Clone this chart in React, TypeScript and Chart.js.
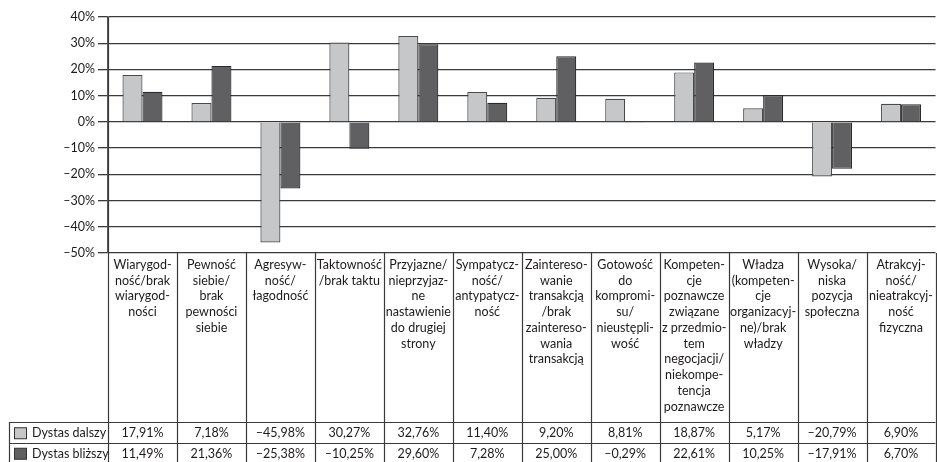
import React, { useEffect, useRef } from "react";
import { Chart, registerables } from "chart.js";

Chart.register(...registerables);

const categories: string[][] = [
  ["Wiarygod-", "ność/brak", "wiarygod-", "ności"],
  ["Pewność", "siebie/", "brak", "pewności", "siebie"],
  ["Agresyw-", "ność/", "łagodność"],
  ["Taktowność", "/brak taktu"],
  ["Przyjazne/", "nieprzyjaz-", "ne", "nastawienie", "do drugiej", "strony"],
  ["Sympatycz-", "ność/", "antypatycz-", "ność"],
  ["Zaintereso-", "wanie", "transakcją", "/brak", "zaintereso-", "wania", "transakcją"],
  ["Gotowość", "do", "kompromi-", "su/", "nieustępli-", "wość"],
  ["Kompeten-", "cje", "poznawcze", "związane", "z przedmio-", "tem", "negocjacji/", "niekompe-", "tencja", "poznawcze"],
  ["Władza", "(kompeten-", "cje", "organizacyj-", "ne)/brak", "władzy"],
  ["Wysoka/", "niska", "pozycja", "społeczna"],
  ["Atrakcyj-", "ność/", "nieatrakcyj-", "ność", "fizyczna"],
];

const seriesNames = ["Dystas dalszy", "Dystas bliższy"];
const farValues = [17.91, 7.18, -45.98, 30.27, 32.76, 11.4, 9.2, 8.81, 18.87, 5.17, -20.79, 6.9];
const nearValues = [11.49, 21.36, -25.38, -10.25, 29.6, 7.28, 25.0, -0.29, 22.61, 10.25, -17.91, 6.7];

const yMin = -50;
const yMax = 40;
const yStep = 10;

const FONT = "Lato, 'Open Sans', sans-serif";
const TEXT = "#1e1a1b";
const LINE = "#3a3a3a";
const LIGHT = "#c6c7c9";
const DARK = "#606062";

const fmtPct = (v: number) => (v < 0 ? "\u2013" : "") + Math.abs(v).toFixed(2).replace(".", ",") + "%";
const fmtTick = (v: number) => (v < 0 ? "\u2013" : "") + Math.abs(v) + "%";

const ROW_TOP = 422;
const ROW_H = 20.5;
const TABLE_LEFT = 9;

const tablePlugin = {
  id: "dataTable",
  afterDraw(chart: any) {
    const ctx = chart.ctx as CanvasRenderingContext2D;
    const { right, top, bottom } = chart.chartArea;
    const xs = chart.scales.x;
    const H = chart.height;
    const n = categories.length;
    const colW = (chart.chartArea.right - chart.chartArea.left) / n;
    ctx.save();
    ctx.strokeStyle = LINE;
    ctx.lineWidth = 1.2;
    for (let i = 0; i <= n; i++) {
      const x = Math.round(xs.getPixelForValue(i) - colW / 2) + 0.5;
      ctx.beginPath();
      ctx.moveTo(x, i === 0 ? top : bottom);
      ctx.lineTo(x, H);
      ctx.stroke();
    }
    for (let r = 0; r < 2; r++) {
      const y = Math.round(ROW_TOP + r * ROW_H) + 0.5;
      ctx.beginPath();
      ctx.moveTo(TABLE_LEFT, y);
      ctx.lineTo(right, y);
      ctx.stroke();
    }
    ctx.beginPath();
    ctx.moveTo(TABLE_LEFT + 0.5, ROW_TOP);
    ctx.lineTo(TABLE_LEFT + 0.5, H);
    ctx.stroke();

    const rows = [farValues, nearValues];
    ctx.font = "12.5px " + FONT;
    ctx.textBaseline = "middle";
    rows.forEach((vals, r) => {
      const cy = ROW_TOP + r * ROW_H + ROW_H / 2 + 1;
      const ds = chart.data.datasets[r];
      ctx.fillStyle = ds.backgroundColor;
      ctx.fillRect(14.5, cy - 5.5, 12, 11);
      ctx.strokeStyle = "#333";
      ctx.lineWidth = 1;
      ctx.strokeRect(14.5, cy - 5.5, 12, 11);
      ctx.fillStyle = TEXT;
      ctx.textAlign = "left";
      ctx.fillText(seriesNames[r], 32, cy);
      ctx.textAlign = "center";
      vals.forEach((v, i) => {
        ctx.fillText(fmtPct(v), xs.getPixelForValue(i), cy);
      });
    });
    ctx.restore();
  },
};

export default function App() {
  const ref = useRef<HTMLCanvasElement>(null);
  useEffect(() => {
    if (!ref.current) return;
    const chart = new Chart(ref.current, {
      type: "bar",
      data: {
        labels: categories,
        datasets: [
          {
            label: seriesNames[0],
            data: farValues,
            backgroundColor: LIGHT,
            borderColor: "#4a4a4a",
            borderWidth: 1.2,
            categoryPercentage: 0.58,
            barPercentage: 1,
          },
          {
            label: seriesNames[1],
            data: nearValues,
            backgroundColor: DARK,
            borderColor: "#2a2a2a",
            borderWidth: 1.2,
            categoryPercentage: 0.58,
            barPercentage: 1,
          },
        ],
      },
      options: {
        animation: false,
        responsive: false,
        devicePixelRatio: 1,
        layout: { padding: { top: 17, left: 0, right: 0, bottom: 0 } },
        plugins: { legend: { display: false }, tooltip: { enabled: false } },
        scales: {
          x: {
            grid: { display: false, drawTicks: false },
            border: { display: false },
            ticks: {
              autoSkip: false,
              maxRotation: 0,
              minRotation: 0,
              padding: 4,
              color: TEXT,
              font: { family: FONT, size: 12.5, lineHeight: 1.26 },
            },
            afterFit: (s: any) => {
              s.height = 209;
            },
          },
          y: {
            min: yMin,
            max: yMax,
            ticks: {
              stepSize: yStep,
              padding: 3,
              color: TEXT,
              font: { family: FONT, size: 12.5 },
              callback: (v: any) => fmtTick(Number(v)),
            },
            grid: { color: LINE, lineWidth: 1.3, drawTicks: true, tickLength: 10 },
            border: { display: true, color: "#5a5a5a", width: 1.5 },
            afterFit: (s: any) => {
              s.width = 108;
            },
          },
        },
      },
      plugins: [tablePlugin],
    });
    return () => chart.destroy();
  }, []);
  return (
    <div style={{ position: "absolute", left: 0, top: 0, width: 937, height: 462, background: "#fff" }}>
      <canvas ref={ref} width={937} height={462} />
    </div>
  );
}
